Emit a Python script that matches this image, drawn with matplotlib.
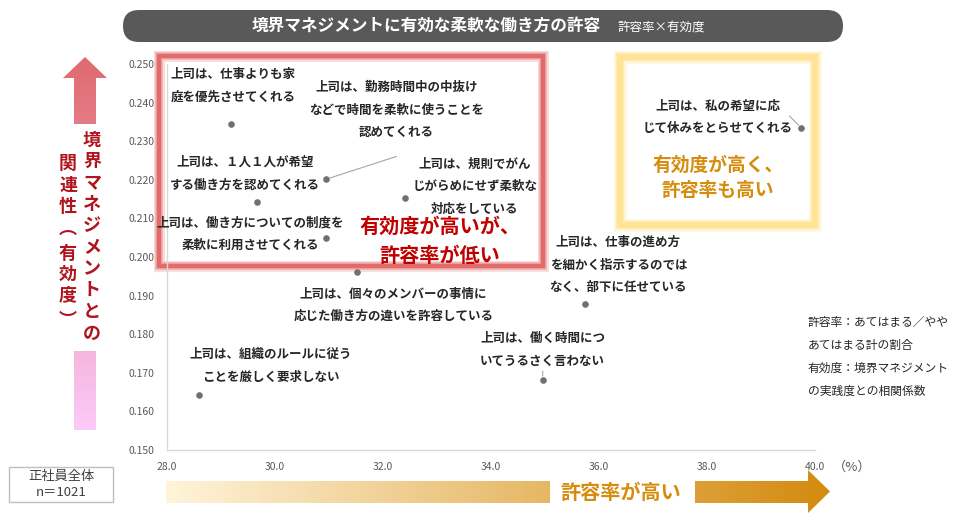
import numpy as np
import matplotlib
matplotlib.use('Agg')
import matplotlib.pyplot as plt
from matplotlib.patches import Polygon, Rectangle, FancyBboxPatch

plt.rcParams['font.family'] = ['Noto Sans CJK JP', 'DejaVu Sans']

# ------------------------------------------ data (許容率 %, 有効度 = 相関係数)
labels = [
    '上司は、仕事よりも家\n庭を優先させてくれる',
    '上司は、勤務時間中の中抜け\nなどで時間を柔軟に使うことを\n認めてくれる',
    '上司は、１人１人が希望\nする働き方を認めてくれる',
    '上司は、規則でがん\nじがらめにせず柔軟な\n対応をしている',
    '上司は、働き方についての制度を\n柔軟に利用させてくれる',
    '上司は、個々のメンバーの事情に\n応じた働き方の違いを許容している',
    '上司は、仕事の進め方\nを細かく指示するのでは\nなく、部下に任せている',
    '上司は、働く時間につ\nいてうるさく言わない',
    '上司は、組織のルールに従う\nことを厳しく要求しない',
    '上司は、私の希望に応\nじて休みをとらせてくれる',
]
allow_rate = [29.19, 30.94, 29.67, 32.41, 30.94, 31.53, 35.75, 34.96, 28.59, 39.75]
effect = [0.2345, 0.2201, 0.2143, 0.2152, 0.2048, 0.1960, 0.1878, 0.1681, 0.1643, 0.2334]

x_ticks = [28.0, 30.0, 32.0, 34.0, 36.0, 38.0, 40.0]
y_ticks = [0.150, 0.160, 0.170, 0.180, 0.190, 0.200, 0.210, 0.220, 0.230, 0.240, 0.250]

title = '境界マネジメントに有効な柔軟な働き方の許容'
subtitle = '許容率×有効度'
note_lines = ['許容率：あてはまる／やや', 'あてはまる計の割合', '有効度：境界マネジメント', 'の実践度との相関係数']
y_label_right = '境界マネジメントとの'
y_label_left = '関連性︵有効度︶'

# label centre offsets from each point (pixels, y up)
label_offsets = [(2, 38), (71, 69), (-12, 28), (70, 12), (-75, 4),
                 (36, -33), (33, 39), (0, 30), (72, 29), (-84, 11)]

TXT = '#262626'
GRAY = '#595959'

fig = plt.figure(figsize=(9.6, 5.2), dpi=100)

# overlay in pixel coords for decorations
ov = fig.add_axes([0, 0, 1, 1], zorder=0)
ov.set_xlim(0, 960); ov.set_ylim(520, 0); ov.axis('off')

ax = fig.add_axes([166.7/960, 70/520, (815-166.7)/960, (450-64)/520], zorder=1)
ax.patch.set_alpha(0)

# ------------------------------------------ title bar
ov.add_patch(FancyBboxPatch((123, 10), 720, 32, boxstyle='round,pad=0,rounding_size=16',
                            fc='#595959', ec='none'))
ov.text(252, 26, title, color='white', fontsize=12, fontweight='bold', ha='left', va='center')
ov.text(617, 27, subtitle, color='white', fontsize=9, ha='left', va='center')

# ------------------------------------------ highlight boxes
for lw, c, a in [(8, '#f8d4d4', 0.8), (5.5, '#eeaaaa', 0.9), (3.2, '#e26a6a', 1)]:
    ov.add_patch(Rectangle((159, 56), 384, 210, fill=False, ec=c, lw=lw, alpha=a))
for lw, c, a in [(9, '#fff4d4', 0.8), (6, '#ffeab0', 1), (4, '#ffe496', 1)]:
    ov.add_patch(Rectangle((620, 57), 195, 168, fill=False, ec=c, lw=lw, alpha=a))

ov.text(440, 241, '有効度が高いが、\n許容率が低い', color='#c00000', fontsize=14.5,
        fontweight='bold', ha='center', va='center', linespacing=1.45)
ov.text(718, 178, '有効度が高く、\n許容率も高い', color='#d68c0c', fontsize=13.5,
        fontweight='bold', ha='center', va='center', linespacing=1.45)

# ------------------------------------------ vertical gradient arrow
top_c = np.array([224, 106, 110]) / 255
bot_c = np.array([252, 202, 250]) / 255
t = np.linspace(0, 1, 200)[:, None, None]
grad_v = top_c * (1 - t) + bot_c * t
v_arrow = Polygon([(85, 57), (107, 78), (96, 78), (96, 430), (74, 430), (74, 78), (63, 78)],
                  closed=True, fc='none', ec='none')
ov.add_patch(v_arrow)
im = ov.imshow(grad_v, extent=[63, 107, 430, 57], aspect='auto', zorder=1)
im.set_clip_path(v_arrow)
ov.add_patch(Rectangle((55, 124), 60, 227, fc='white', ec='none', zorder=2))
for i, ch in enumerate(y_label_right):
    ov.text(92, 140 + 21.5 * i, ch, color='#b0141e', fontsize=13, fontweight='bold',
            ha='center', va='center', zorder=3)
left_y = [163, 185, 207, 228, 253, 274, 295, 320]
for ch, yy in zip(y_label_left, left_y):
    ov.text(68, yy, ch, color='#b0141e', fontsize=13, fontweight='bold',
            ha='center', va='center', zorder=3)

# ------------------------------------------ horizontal gradient arrow
l_c = np.array([255, 244, 218]) / 255
r_c = np.array([212, 138, 14]) / 255
t = np.linspace(0, 1, 300)[None, :, None]
grad_h = l_c * (1 - t) + r_c * t
h_arrow = Polygon([(166, 481), (808, 481), (808, 470), (830, 491.5), (808, 513), (808, 503), (166, 503)],
                  closed=True, fc='none', ec='none')
ov.add_patch(h_arrow)
im2 = ov.imshow(grad_h, extent=[166, 830, 513, 470], aspect='auto', zorder=1)
im2.set_clip_path(h_arrow)
ov.add_patch(Rectangle((550, 465), 145, 52, fc='white', ec='none', zorder=2))
ov.text(621, 492, '許容率が高い', color='#d68c0c', fontsize=14.5, fontweight='bold',
        ha='center', va='center', zorder=3)

# ------------------------------------------ sample box + notes
ov.add_patch(Rectangle((9, 467), 104, 35, fc='white', ec='#bfbfbf', lw=1))
ov.text(61, 484.5, '正社員全体\nn＝1021', color='#404040', fontsize=9.5,
        ha='center', va='center', linespacing=1.3)
ov.text(808, 357, '\n'.join(note_lines), color=TXT, fontsize=8.5, ha='left', va='center',
        linespacing=2.0)
ov.set_xlim(0, 960); ov.set_ylim(520, 0)

# ------------------------------------------ scatter
ax.scatter(allow_rate, effect, s=14, color='#707070', zorder=3)
for x, y, lab, (dx, dy) in zip(allow_rate, effect, labels, label_offsets):
    ax.annotate(lab, xy=(x, y), xytext=(dx, dy), textcoords='offset pixels',
                ha='center', va='center', fontsize=9, color=TXT, fontweight='bold',
                linespacing=1.95, annotation_clip=False)

# leader lines
for i, (dx, dy) in [(1, (71, 23)), (9, (-12, 12)), (7, (0, 9))]:
    ax.annotate('', xy=(allow_rate[i], effect[i]), xytext=(dx, dy), textcoords='offset pixels',
                arrowprops=dict(arrowstyle='-', color='#a6a6a6', lw=0.8, shrinkA=0, shrinkB=3))

ax.set_xlim(28, 40)
ax.set_ylim(0.150, 0.250)
ax.set_xticks(x_ticks)
ax.set_xticklabels(['%.1f' % v for v in x_ticks])
ax.set_yticks(y_ticks)
ax.set_yticklabels(['%.3f' % v for v in y_ticks])
ax.tick_params(length=0, labelsize=7.5, labelcolor=GRAY, pad=9)
for s in ['top', 'right']:
    ax.spines[s].set_visible(False)
for s in ['left', 'bottom']:
    ax.spines[s].set_color('#d9d9d9')
    ax.spines[s].set_linewidth(1)
ov.text(833, 467, '（%）', color=GRAY, fontsize=9.5, ha='left', va='center')

fig.savefig('out.png', dpi=100)
